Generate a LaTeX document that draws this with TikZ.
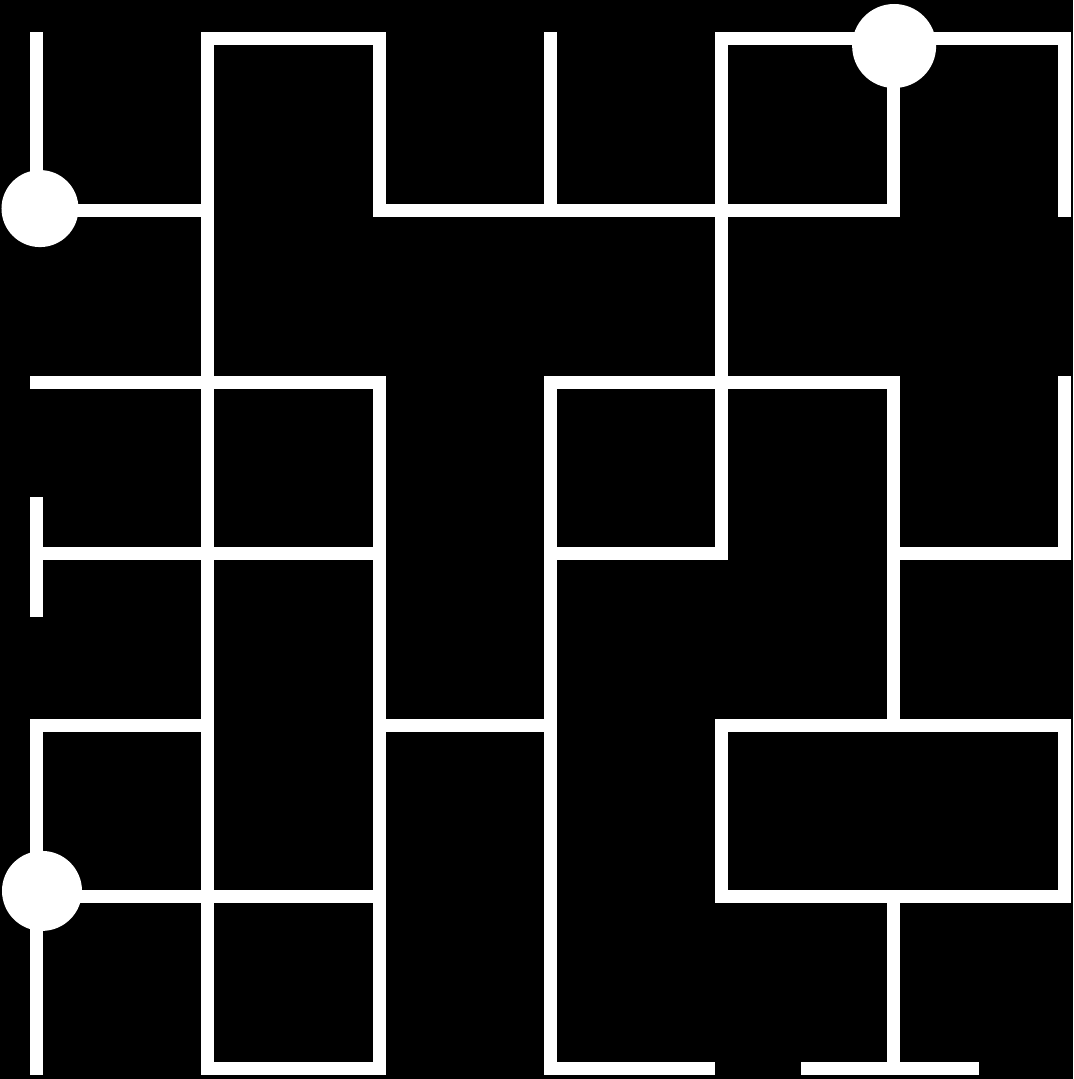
\documentclass[tikz,border=0pt]{standalone}
\usepackage{tikz}
\usetikzlibrary{positioning}
\tikzset{
  wall/.style={draw=white, line width=0.26cm, line cap=rect, line join=miter},
  hub/.style={circle, fill=white, draw=none, inner sep=0pt, minimum size=#1},
}

\begin{document}
\begin{tikzpicture}[x=3.4267cm, y=-3.4317cm]
  % background and frame
  \fill[black] (-0.2130,-0.2273) rectangle (6.0497,6.0613);
  % grid points
  \foreach \i in {0,...,6}
    \foreach \j in {0,...,6}
      \coordinate (p-\i-\j) at (\i,\j);
  \coordinate (stub-t) at (0,2.707);
  \coordinate (stub-b) at (0,3.331);
  \coordinate (bot-e) at (3.922,6);
  \coordinate (bar-l) at (4.500,6);
  \coordinate (bar-r) at (5.463,6);

  % walls
  \draw[wall] (p-0-0) -- (p-0-1) -- (p-1-1);
  \draw[wall] (p-1-6) -- (p-1-0) -- (p-2-0) -- (p-2-1) -- (p-5-1) -- (p-5-0);
  \draw[wall] (p-3-0) -- (p-3-1);
  \draw[wall] (p-3-3) -- (p-4-3) -- (p-4-0) -- (p-6-0) -- (p-6-1);
  \draw[wall] (p-0-2) -- (p-2-2) -- (p-2-6) -- (p-1-6);
  \draw[wall] (p-0-3) -- (p-2-3);
  \draw[wall] (stub-t) -- (stub-b);
  \draw[wall] (p-1-4) -- (p-0-4) -- (p-0-6);
  \draw[wall] (p-0-5) -- (p-2-5);
  \draw[wall] (p-2-4) -- (p-3-4);
  \draw[wall] (bot-e) -- (p-3-6) -- (p-3-2) -- (p-5-2) -- (p-5-4);
  \draw[wall] (p-6-2) -- (p-6-3) -- (p-5-3);
  \draw[wall] (p-4-4) rectangle (p-6-5);
  \draw[wall] (p-5-5) -- (p-5-6);
  \draw[wall] (bar-l) -- (bar-r);

  % hubs
  \node[hub=1.54cm] (hub-a) at ([xshift=0.07cm,yshift=0.04cm]p-0-1) {};
  \node[hub=1.68cm] (hub-b) at ([xshift=0.02cm,yshift=-0.14cm]p-5-0) {};
  \node[hub=1.60cm] (hub-c) at ([xshift=0.11cm,yshift=0.12cm]p-0-5) {};
\end{tikzpicture}
\end{document}
